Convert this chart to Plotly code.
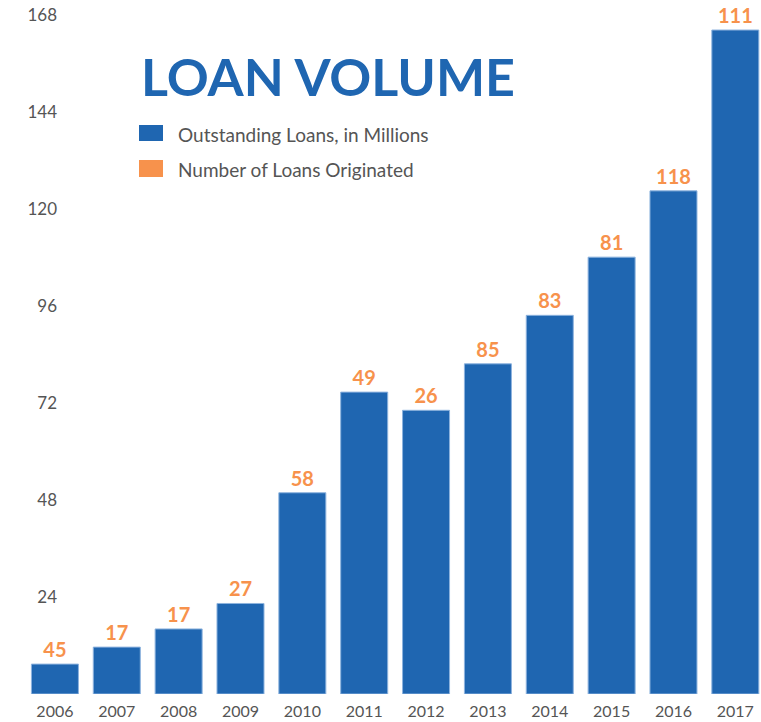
import plotly.graph_objects as go

years = ["2006", "2007", "2008", "2009", "2010", "2011", "2012", "2013", "2014", "2015", "2016", "2017"]
outstanding_loans = [7.4, 11.6, 16.1, 22.4, 49.8, 74.7, 70.2, 81.7, 93.7, 108.1, 124.5, 164.3]
loans_originated = [45, 17, 17, 27, 58, 49, 26, 85, 83, 81, 118, 111]
y_ticks = [24, 48, 72, 96, 120, 144, 168]

BLUE = "#1F66B1"
ORANGE = "#F7924C"
GRAY = "#555555"
FONT = "Lato"

W, H = 761, 722
L, R, T, B = 24, 0, 7, 28
pw, ph = W - L - R, H - T - B

def px_x(p):
    return (p - L) / pw

def px_y(p):
    return (H - B - p) / ph

fig = go.Figure()
fig.add_trace(go.Bar(
    x=years, y=outstanding_loans, name="Outstanding Loans, in Millions",
    marker=dict(color=BLUE, line=dict(color="#8DB3DE", width=1)),
    text=[str(v) for v in loans_originated], textposition="outside",
    textfont=dict(family=FONT, size=20, color=ORANGE, weight="bold"),
    constraintext="none", cliponaxis=False, showlegend=False,
    hoverinfo="x+y",
))

fig.update_layout(
    width=W, height=H,
    margin=dict(l=L, r=R, t=T, b=B),
    paper_bgcolor="white", plot_bgcolor="white",
    bargap=0.24,
    font=dict(family=FONT, color=GRAY),
    xaxis=dict(type="category", range=[-0.5, 11.415], showgrid=False, showline=False,
               ticks="", ticklabelstandoff=6,
               tickfont=dict(family=FONT, size=16, color=GRAY), zeroline=False),
    yaxis=dict(range=[0, 170], tickvals=y_ticks, ticktext=[str(v) for v in y_ticks],
               showgrid=False, showline=False, zeroline=False, ticks="",
               anchor="free", position=px_x(57),
               tickfont=dict(family=FONT, size=17, color=GRAY)),
    showlegend=False,
)

# Title
fig.add_annotation(text="<b>LOAN VOLUME</b>", xref="paper", yref="paper",
                   x=px_x(139), y=px_y(76), xanchor="left", yanchor="middle",
                   showarrow=False, font=dict(family=FONT, size=52, color=BLUE))

# Custom legend
legend_items = [("Outstanding Loans, in Millions", BLUE, 125, 141),
                ("Number of Loans Originated", ORANGE, 160, 177)]
for label, col, y0, y1 in legend_items:
    fig.add_shape(type="rect", xref="paper", yref="paper",
                  x0=px_x(139), x1=px_x(163), y0=px_y(y1), y1=px_y(y0),
                  fillcolor=col, line=dict(width=0))
    fig.add_annotation(text=label, xref="paper", yref="paper",
                       x=px_x(176), y=px_y((y0 + y1) / 2 + 1), xanchor="left", yanchor="middle",
                       showarrow=False, font=dict(family=FONT, size=19, color=GRAY))

fig.write_html("out.html", config={"displayModeBar": False},
               post_script="document.body.style.margin='0';")
